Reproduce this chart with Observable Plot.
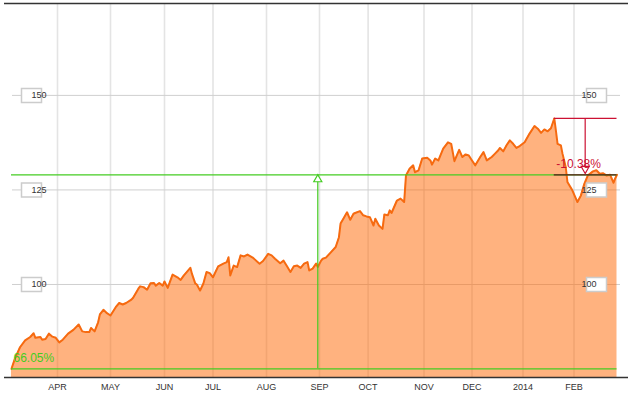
<!DOCTYPE html>
<html>
<head>
<meta charset="utf-8">
<script src="https://cdn.jsdelivr.net/npm/d3@7"></script>
<script src="https://cdn.jsdelivr.net/npm/@observablehq/plot@0.6"></script>
<style>
  html, body { margin: 0; padding: 0; background: #fff; }
</style>
</head>
<body>
<div id="chart"></div>
<script>
const dates = [
  "2013-03-05","2013-03-07","2013-03-10","2013-03-13","2013-03-16","2013-03-18","2013-03-19","2013-03-22","2013-03-23","2013-03-25","2013-03-27","2013-03-29","2013-03-31",
  "2013-04-02","2013-04-04","2013-04-07","2013-04-10","2013-04-13","2013-04-15","2013-04-17","2013-04-19","2013-04-20","2013-04-22","2013-04-24","2013-04-25","2013-04-27","2013-04-29",
  "2013-05-01","2013-05-04","2013-05-06","2013-05-08","2013-05-10","2013-05-13","2013-05-14","2013-05-17","2013-05-18","2013-05-20","2013-05-22","2013-05-24","2013-05-26","2013-05-27","2013-05-29","2013-05-31",
  "2013-06-01","2013-06-03","2013-06-06","2013-06-09","2013-06-11","2013-06-13","2013-06-17","2013-06-18","2013-06-20","2013-06-21","2013-06-23","2013-06-25","2013-06-27","2013-06-29",
  "2013-07-01","2013-07-04","2013-07-07","2013-07-09","2013-07-10","2013-07-11","2013-07-13","2013-07-15","2013-07-17","2013-07-19","2013-07-21","2013-07-24","2013-07-27","2013-07-28","2013-07-30",
  "2013-08-02","2013-08-04","2013-08-06","2013-08-09","2013-08-11","2013-08-13","2013-08-15","2013-08-17","2013-08-19","2013-08-21","2013-08-23","2013-08-25","2013-08-26","2013-08-28","2013-08-30","2013-08-31",
  "2013-09-02","2013-09-03","2013-09-05","2013-09-08","2013-09-11","2013-09-13","2013-09-14","2013-09-16","2013-09-18","2013-09-20","2013-09-22","2013-09-23","2013-09-26","2013-09-28","2013-09-30",
  "2013-10-02","2013-10-04","2013-10-05","2013-10-07","2013-10-09","2013-10-10","2013-10-12","2013-10-13","2013-10-14","2013-10-17","2013-10-19","2013-10-21","2013-10-22","2013-10-24","2013-10-26","2013-10-27","2013-10-29","2013-10-31",
  "2013-11-03","2013-11-05","2013-11-06","2013-11-08","2013-11-10","2013-11-13","2013-11-16","2013-11-18","2013-11-20","2013-11-23","2013-11-25","2013-11-27","2013-11-29",
  "2013-12-01","2013-12-03","2013-12-06","2013-12-08","2013-12-10","2013-12-13","2013-12-15","2013-12-17","2013-12-18","2013-12-20","2013-12-22","2013-12-24","2013-12-26","2013-12-28","2013-12-30",
  "2014-01-02","2014-01-05","2014-01-08","2014-01-10","2014-01-12","2014-01-14","2014-01-16","2014-01-18","2014-01-20","2014-01-21","2014-01-22","2014-01-24","2014-01-25","2014-01-27","2014-01-28","2014-01-31",
  "2014-02-03","2014-02-05","2014-02-07","2014-02-09","2014-02-12","2014-02-14","2014-02-16","2014-02-18","2014-02-20","2014-02-22","2014-02-24","2014-02-25","2014-02-26"
];
const values = [
  77.7,80.4,83.4,85.2,86.1,87.1,85.9,86.1,85.4,85.6,87.0,86.2,85.9,
  84.7,85.4,87.0,88.0,89.4,87.6,87.4,87.4,88.5,87.6,90.0,92.1,93.3,92.4,
  91.8,94.0,95.1,94.7,95.1,96.0,96.5,98.9,99.5,99.3,98.6,100.3,100.4,99.7,100.4,99.7,
  100.8,99.1,102.6,101.9,101.2,102.4,104.4,102.8,100.3,100.0,98.4,100.2,103.3,103.0,
  101.9,104.8,105.5,105.9,107.2,102.4,105.0,104.6,107.7,107.4,107.9,107.1,105.9,105.5,106.2,
  108.1,107.7,106.8,105.6,106.3,104.8,103.3,104.8,105.0,104.4,105.5,105.9,103.7,104.2,105.5,104.6,
  106.3,106.8,107.1,108.5,109.9,112.5,116.1,117.6,119.1,117.1,118.7,118.9,119.4,118.3,118.0,
  117.8,115.6,117.4,115.6,114.7,118.5,118.3,119.6,118.9,122.2,122.7,121.8,128.8,130.6,131.5,129.7,130.2,133.3,
  133.5,132.8,131.7,133.3,132.8,135.9,137.6,137.2,132.6,135.6,133.7,134.4,134.1,
  132.8,131.5,133.7,135.0,132.8,133.7,134.6,135.5,136.1,135.2,136.8,138.1,137.2,136.1,136.6,
  137.6,139.9,141.9,141.2,140.1,141.0,140.5,141.3,143.9,140.7,137.2,136.8,134.6,131.0,127.1,124.9,
  121.8,123.5,126.6,128.8,129.9,130.2,129.3,129.4,128.8,129.0,126.9,128.1,129.0
];
const monthTicks = ["2013-04-01","2013-05-01","2013-06-01","2013-07-01","2013-08-01","2013-09-01","2013-10-01","2013-11-01","2013-12-01","2014-01-01","2014-02-01"];
const monthLabels = ["APR","MAY","JUN","JUL","AUG","SEP","OCT","NOV","DEC","2014","FEB"];
const yTicks = [100, 125, 150];
const gainLabel = "66.05%";
const drawdownLabel = "-10.38%";

const parse = s => new Date(s + "T00:00:00Z");
const data = dates.map((d, i) => ({date: parse(d), value: values[i]}));
const tickDates = monthTicks.map(parse);
const labelByTime = new Map(tickDates.map((d, i) => [+d, monthLabels[i]]));

const first = data[0], last = data[data.length - 1];
const peak = data.reduce((a, b) => (b.value > a.value ? b : a));
const mid = (a, b) => new Date((+a + +b) / 2);
const gainMid = mid(first.date, last.date);
const ddMid = mid(peak.date, last.date);

const yMin = 75.4, yMax = 174.3;
const green = "#44cc22", red = "#cc1133";

const boxSymbol = {
  draw(ctx) {
    ctx.moveTo(-10, -7); ctx.lineTo(10, -7); ctx.lineTo(10, 7); ctx.lineTo(-10, 7); ctx.closePath();
  }
};

const chart = Plot.plot({
  width: 634,
  height: 399,
  marginTop: 3,
  marginBottom: 22,
  marginLeft: 4,
  marginRight: 6,
  style: {fontFamily: "'Liberation Sans', Arial, sans-serif", fontSize: "9px", color: "#333", background: "#fff"},
  x: {
    type: "utc",
    domain: [first.date, ...tickDates, last.date],
    range: [11, 57, 110, 164, 212.5, 266, 319, 367.6, 423.5, 471.5, 522.5, 573.5, 616.5],
    ticks: tickDates,
    tickFormat: d => labelByTime.get(+d) ?? "",
    tickSize: 0,
    tickPadding: 6,
    label: null
  },
  y: {domain: [yMin, yMax], axis: null},
  marks: [
    Plot.ruleX(tickDates, {stroke: "#e4e4e4", strokeWidth: 1.6}),
    Plot.ruleY(yTicks, {stroke: "#cfcfcf", strokeWidth: 1, insetLeft: 8, insetRight: 8}),
    Plot.areaY(data, {x: "date", y1: yMin, y2: "value", fill: "#ff6600", fillOpacity: 0.5}),
    Plot.line(data, {x: "date", y: "value", stroke: "#f66a10", strokeWidth: 2}),
    Plot.ruleY([yMin], {stroke: "#333", strokeWidth: 1.5}),
    Plot.ruleY([yMax], {stroke: "#333", strokeWidth: 1.5}),
    // gain bracket
    Plot.ruleY([first], {y: "value", x1: first.date, x2: last.date, stroke: green, strokeWidth: 1.2}),
    Plot.ruleY([last], {y: "value", x1: first.date, x2: last.date, stroke: green, strokeWidth: 1.2}),
    Plot.ruleX([gainMid], {y1: first.value, y2: last.value, stroke: green, strokeWidth: 1.2}),
    Plot.dot([gainMid], {x: d => d, y: last.value, symbol: "triangle", r: 3, dy: 4.6, stroke: green, fill: "white", strokeWidth: 1.2}),
    Plot.text([gainLabel], {x: first.date, y: first.value, text: d => d, textAnchor: "start", dx: 2, dy: -11, fill: green, fontSize: 12}),
    // drawdown bracket
    Plot.ruleY([peak], {y: "value", x1: peak.date, x2: last.date, stroke: red, strokeWidth: 1.2}),
    Plot.ruleY([last], {y: "value", x1: peak.date, x2: last.date, stroke: "#5a1418", strokeWidth: 1.2}),
    Plot.ruleX([ddMid], {y1: peak.value, y2: last.value, stroke: red, strokeWidth: 1.2, insetBottom: 2}),
    Plot.dot([ddMid], {x: d => d, y: last.value, symbol: "triangle", rotate: 180, r: 3, dy: -6, stroke: red, fill: "white", strokeWidth: 1.2}),
    Plot.text([drawdownLabel], {x: peak.date, y: last.value, text: d => d, textAnchor: "start", dx: 2, dy: -11, fill: red, fontSize: 12}),
    // y label boxes
    Plot.dot(yTicks, {y: d => d, frameAnchor: "left", dx: 27, symbol: boxSymbol, fill: "white", stroke: "#cccccc"}),
    Plot.text(yTicks, {y: d => d, text: d => String(d), frameAnchor: "left", dx: 27, fill: "#333", fontSize: 9}),
    Plot.dot(yTicks, {y: d => d, frameAnchor: "right", dx: -32, symbol: boxSymbol, fill: "white", stroke: "#cccccc"}),
    Plot.text(yTicks, {y: d => d, text: d => String(d), frameAnchor: "right", dx: -32, fill: "#333", fontSize: 9})
  ]
});
document.getElementById("chart").appendChild(chart);
</script>
</body>
</html>
